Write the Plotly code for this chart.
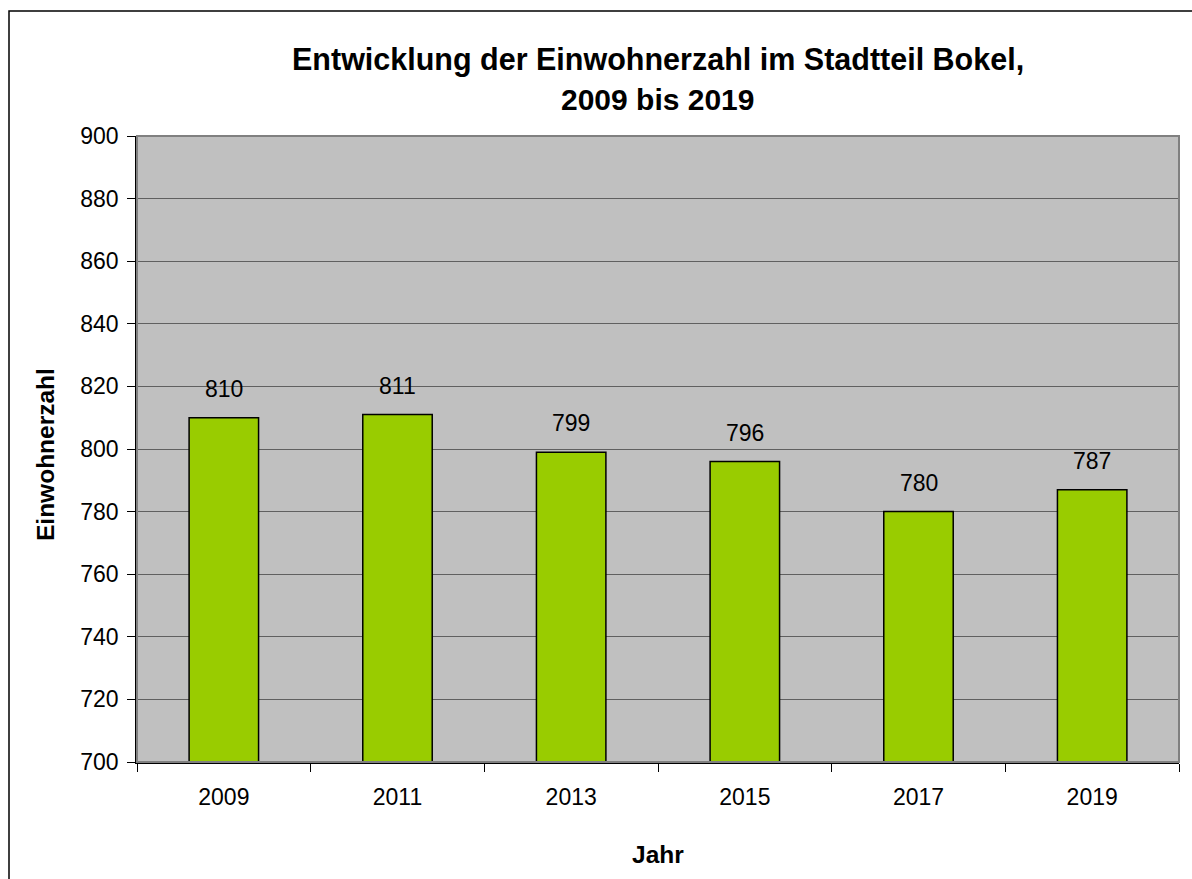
import plotly.graph_objects as go

years = ["2009", "2011", "2013", "2015", "2017", "2019"]
einwohner = [810, 811, 799, 796, 780, 787]

W, H = 1192, 879
L, R, T, B = 137, 13, 136, 117
pw, ph = W - L - R, H - T - B
FONT = "Liberation Sans, Arial, Helvetica, sans-serif"


def py(ypx):
    return (H - B - ypx) / ph


def px(xpx):
    return (xpx - L) / pw


fig = go.Figure()
fig.add_trace(go.Bar(
    x=years, y=einwohner, width=0.4,
    marker=dict(color="#99CC00", line=dict(color="#000000", width=1.5)),
    showlegend=False, hoverinfo="x+y",
))

for i, v in enumerate(einwohner):
    fig.add_annotation(x=i, y=v, xref="x", yref="y", text=str(v), showarrow=False,
                       yanchor="bottom", yshift=14,
                       font=dict(family=FONT, size=23, color="#000"))

fig.add_annotation(x=0.5, y=py(60), xref="paper", yref="paper", yanchor="middle",
                   text="<b>Entwicklung der Einwohnerzahl im Stadtteil Bokel,</b>", showarrow=False,
                   font=dict(family=FONT, size=30.5, color="#000"))
fig.add_annotation(x=0.5, y=py(100), xref="paper", yref="paper", yanchor="middle",
                   text="<b>2009 bis 2019</b>", showarrow=False,
                   font=dict(family=FONT, size=30, color="#000"))

fig.add_annotation(x=0.5, y=py(854), xref="paper", yref="paper", yanchor="middle",
                   text="<b>Jahr</b>", showarrow=False,
                   font=dict(family=FONT, size=24.5, color="#000"))
fig.add_annotation(x=px(45), y=py(455), xref="paper", yref="paper", xanchor="center", yanchor="middle",
                   text="<b>Einwohnerzahl</b>", showarrow=False, textangle=-90,
                   font=dict(family=FONT, size=24.5, color="#000"))

# plot-area border (grey)
fig.add_shape(type="rect", xref="paper", yref="paper", x0=0, x1=1, y0=0, y1=1,
              line=dict(color="#808080", width=2), layer="above")
# outer chart border (only left/top visible in the reference)
fig.add_shape(type="rect", xref="paper", yref="paper",
              x0=px(9), x1=px(W + 20), y0=py(H + 20), y1=py(11),
              line=dict(color="#000000", width=1.5))

fig.update_layout(
    width=W, height=H,
    margin=dict(l=L, r=R, t=T, b=B, autoexpand=False),
    paper_bgcolor="#FFFFFF", plot_bgcolor="#C0C0C0",
    font=dict(family=FONT, color="#000"),
)
fig.update_xaxes(
    type="category", showgrid=False, showline=True, linecolor="#000", linewidth=1.5,
    ticks="outside", tickson="boundaries", ticklen=8, tickcolor="#000",
    tickfont=dict(size=23, color="#000"), ticklabelstandoff=14, zeroline=False,
)
fig.update_yaxes(
    range=[700, 900], dtick=20, showgrid=True, gridcolor="#606060", gridwidth=1,
    showline=True, linecolor="#000", linewidth=1.5, ticks="outside", ticklen=8, tickcolor="#000",
    tickfont=dict(size=23, color="#000"), ticklabelstandoff=4, zeroline=False,
)

fig.write_html("out.html", config={"displayModeBar": False},
               post_script="document.body.style.margin='0';document.body.style.overflow='hidden';")
